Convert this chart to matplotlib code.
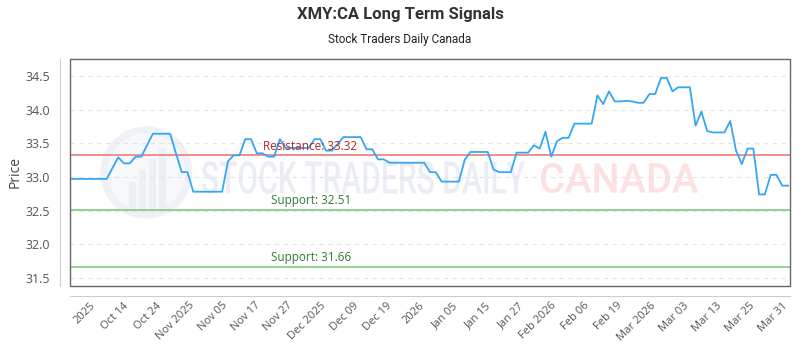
import numpy as np
import matplotlib
matplotlib.use("Agg")
import matplotlib.pyplot as plt
from matplotlib.patches import Rectangle, Ellipse, PathPatch
from matplotlib.textpath import TextPath
from matplotlib.font_manager import FontProperties
from matplotlib.transforms import Affine2D, IdentityTransform

# ---- data ----
prices = [
    32.97, 32.97, 32.97, 32.97, 32.97, 32.97, 32.97, 33.13, 33.29, 33.20,
    33.20, 33.30, 33.30, 33.47, 33.64, 33.64, 33.64, 33.64, 33.35, 33.07,
    33.07, 32.78, 32.78, 32.78, 32.78, 32.78, 32.78, 33.23, 33.32, 33.32,
    33.56, 33.56, 33.35, 33.35, 33.30, 33.30, 33.56, 33.43, 33.43, 33.43,
    33.43, 33.43, 33.56, 33.56, 33.39, 33.39, 33.49, 33.59, 33.59, 33.59,
    33.59, 33.41, 33.41, 33.26, 33.26, 33.21, 33.21, 33.21, 33.21, 33.21,
    33.21, 33.21, 33.07, 33.07, 32.93, 32.93, 32.93, 32.93, 33.25, 33.37,
    33.37, 33.37, 33.37, 33.11, 33.07, 33.07, 33.07, 33.36, 33.36, 33.36,
    33.47, 33.42, 33.67, 33.30, 33.53, 33.58, 33.58, 33.79, 33.79, 33.79,
    33.79, 34.21, 34.08, 34.27, 34.12, 34.12, 34.13, 34.12, 34.10, 34.10,
    34.23, 34.23, 34.47, 34.47, 34.27, 34.33, 34.33, 34.33, 33.76, 33.97,
    33.68, 33.66, 33.66, 33.66, 33.83, 33.39, 33.19, 33.42, 33.42, 32.74,
    32.74, 33.03, 33.03, 32.87, 32.87,
]
tick_labels = [
    "2025", "Oct 14", "Oct 24", "Nov 2025", "Nov 05", "Nov 17", "Nov 27",
    "Dec 2025", "Dec 09", "Dec 19", "2026", "Jan 05", "Jan 15", "Jan 27",
    "Feb 2026", "Feb 06", "Feb 19", "Mar 2026", "Mar 03", "Mar 13",
    "Mar 25", "Mar 31",
]
resistance = 33.32
supports = [32.51, 31.66]
y_ticks = [31.5, 32.0, 32.5, 33.0, 33.5, 34.0, 34.5]

title = "XMY:CA Long Term Signals"
subtitle = "Stock Traders Daily Canada"

# ---- figure ----
W, H = 800, 350
fig = plt.figure(figsize=(8, 3.5), dpi=100)
ax = fig.add_axes([70 / W, 1 - 286 / H, 720 / W, 227 / H])

# spines first (set_position resets ticks)
for side in ["top", "right"]:
    ax.spines[side].set_visible(False)
for side in ["left", "bottom"]:
    ax.spines[side].set_position(("outward", 7.2))
    ax.spines[side].set_color("#cccccc")

x = np.arange(len(prices))
n = len(prices)


def boxed_text(s, x0, x1, ytop, ybot, color):
    """Draw text stretched to fill a pixel box (image coords, y down)."""
    tp = TextPath((0, 0), s, size=1,
                  prop=FontProperties(family="Roboto", weight="medium"))
    ext = tp.get_extents()
    sx = (x1 - x0) / ext.width
    sy = (ybot - ytop) / ext.height
    tr = (Affine2D().translate(-ext.x0, -ext.y0).scale(sx, sy)
          .translate(x0, H - ybot))
    patch = PathPatch(tr.transform_path(tp), facecolor=color,
                      edgecolor="none", transform=IdentityTransform(),
                      zorder=0.5)
    ax.add_artist(patch)


# watermark
ax.add_patch(Ellipse((0.106, 0.50), 0.118, 0.375, transform=ax.transAxes,
                     facecolor="#f7f8fb", edgecolor="#eef1f5", lw=5,
                     zorder=0.4))
for bx, bh in [(0.082, 0.12), (0.096, 0.17), (0.110, 0.22), (0.124, 0.27)]:
    ax.add_patch(Rectangle((bx, 0.34), 0.009, bh, transform=ax.transAxes,
                           facecolor="#eceff4", edgecolor="none", zorder=0.4))
boxed_text("STOCK TRADERS DAILY", 202, 525, 161, 194, "#eaeef4")
boxed_text("CANADA", 541, 698, 163, 193, "#fde0e0")

ax.plot(x, prices, color="#35a6f5", lw=1.3, zorder=3)

ax.axhline(resistance, color="#ec8f8f", lw=1.4, zorder=2)
for s in supports:
    ax.axhline(s, color="#93cf93", lw=1.4, zorder=2)

ax.text(33.1, resistance + 0.04, f"Resistance: {resistance:.2f}",
        color="#b3262a", fontsize=8.5, family="Open Sans", va="bottom",
        ha="left", zorder=4)
for s in supports:
    ax.text(34.5, s + 0.04, f"Support: {s:.2f}", color="#2e7d32",
            fontsize=8.5, family="Open Sans", va="bottom", ha="left",
            zorder=4)

ax.set_xlim(-0.35, n - 1 + 0.35)
ax.set_ylim(31.38, 34.75)
ax.set_yticks(y_ticks)
ax.set_yticklabels([f"{v:.1f}" for v in y_ticks], family="Open Sans")
tick_pos = np.linspace(4.4, 124.3, len(tick_labels))
ax.set_xticks(tick_pos)
ax.set_xticklabels(tick_labels, rotation=45, ha="right", family="Open Sans")

ax.grid(axis="y", color="#e4e4e4", ls=(0, (4, 4)), lw=0.8)
ax.set_axisbelow(True)
ax.tick_params(length=0, colors="#555555")
ax.tick_params(axis="x", labelsize=8, pad=3)
ax.tick_params(axis="y", labelsize=9, pad=7)

ax.add_patch(Rectangle((0, 0), 1, 1, transform=ax.transAxes, fill=False,
                       edgecolor="#666666", lw=1.0, clip_on=False, zorder=5))

ax.set_ylabel("Price", fontsize=10, color="#444444", family="Open Sans")
ax.yaxis.set_label_coords(-0.066, 0.5)

fig.text(0.5, 1 - 15 / H, title, ha="center", va="center", fontsize=12,
         fontweight="bold", color="#333333", family="Roboto")
fig.text(0.5, 1 - 40 / H, subtitle, ha="center", va="center",
         fontsize=8.5, color="#222222", family="Roboto")

fig.savefig("out.png", dpi=100)
